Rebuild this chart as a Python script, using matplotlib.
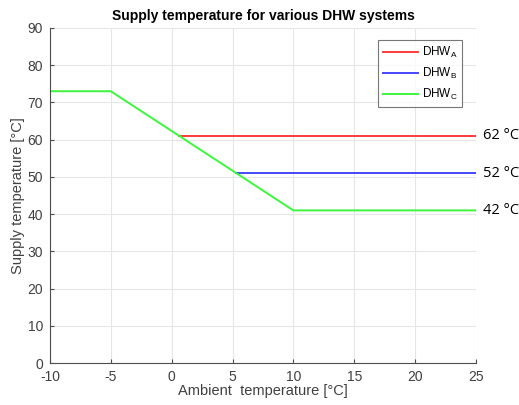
import numpy as np
import matplotlib.pyplot as plt

# data
ambient_c = [-10, -5, 10, 25]
supply_c = [73, 73, 41, 41]
dhw_a_x = [0.625, 25]
dhw_a_y = [61, 61]
dhw_b_x = [5.3, 25]
dhw_b_y = [51, 51]
labels = ['DHW$_\\mathrm{A}$', 'DHW$_\\mathrm{B}$', 'DHW$_\\mathrm{C}$']
end_labels = ['62 °C', '52 °C', '42 °C']
end_y = [61, 51, 41]

cols = ['#ff3b3b', '#4646ff', '#3cf53c']

plt.rcParams['font.family'] = ['Liberation Sans', 'DejaVu Sans']
plt.rcParams['axes.unicode_minus'] = False
plt.rcParams['mathtext.fontset'] = 'custom'
plt.rcParams['mathtext.rm'] = 'Liberation Sans'
fig = plt.figure(figsize=(5.19, 4.05), dpi=100)
ax = fig.add_axes([0.0963, 0.1037, 0.8207, 0.8273])

ax.plot(dhw_a_x, dhw_a_y, color=cols[0], lw=1.4, label=labels[0])
ax.plot(dhw_b_x, dhw_b_y, color=cols[1], lw=1.4, label=labels[1])
ax.plot(ambient_c, supply_c, color=cols[2], lw=1.4, label=labels[2])

ax.set_xlim(-10, 25)
ax.set_ylim(0, 90)
ax.set_xticks(np.arange(-10, 26, 5))
ax.set_yticks(np.arange(0, 91, 10))
ax.grid(True, color='#e6e6e6', lw=0.8)
ax.set_axisbelow(True)
for s in ['top', 'right']:
    ax.spines[s].set_visible(False)
for s in ['left', 'bottom']:
    ax.spines[s].set_color('#4d4d4d')
ax.tick_params(direction='in', length=3, colors='#4d4d4d', labelsize=10,
               labelcolor='#404040')
ax.tick_params(axis='x', pad=5)
ax.tick_params(axis='y', pad=5)

ax.set_xlabel('Ambient  temperature [°C]', fontsize=10.5, color='#404040', labelpad=0)
ax.set_ylabel('Supply temperature [°C]', fontsize=10.5, color='#404040', labelpad=2)
ax.set_title('Supply temperature for various DHW systems', fontsize=10,
             fontweight='bold', pad=6)

leg = ax.legend(loc='upper right', bbox_to_anchor=(0.968, 0.963), fontsize=8.5,
                frameon=True, fancybox=False, handlelength=3.0, borderpad=0.4,
                labelspacing=0.5, handletextpad=0.3, borderaxespad=0)
leg.get_frame().set_edgecolor('#555555')
leg.get_frame().set_linewidth(0.8)

for y, t in zip(end_y, end_labels):
    ax.annotate(t, xy=(25, y), xytext=(5, 0), textcoords='offset points',
                va='center', ha='left', fontsize=10.5, family='Open Sans',
                annotation_clip=False)

fig.savefig('out.png', dpi=100)
